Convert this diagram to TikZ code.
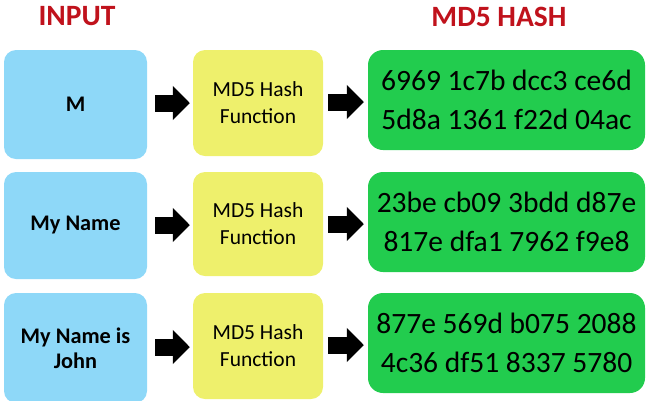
\documentclass[tikz,border=0pt]{standalone}
\usepackage{fontspec}
\setmainfont{Carlito}
\usetikzlibrary{arrows.meta}
\definecolor{inblue}{HTML}{8ED8F8}
\definecolor{fnyellow}{HTML}{EEF06C}
\definecolor{hashgreen}{HTML}{22CC4E}
\definecolor{titlered}{HTML}{C0121C}
\tikzset{
  box/.style={rounded corners=12pt, inner sep=0pt, align=center, text=black},
  inbox/.style={box, fill=inblue, minimum width=143pt, font=\bfseries\fontsize{22.3}{25}\selectfont},
  fnbox/.style={box, fill=fnyellow, minimum width=130pt, font=\fontsize{21.5}{27}\selectfont},
  hashbox/.style={box, fill=hashgreen, minimum width=277pt, minimum height=100pt, rounded corners=15pt, font=\fontsize{29.5}{39}\selectfont},
  title/.style={text=titlered, font=\bfseries\fontsize{29.5}{32}\selectfont, inner sep=0pt},
  blockarrow/.style={line width=17pt, -{Triangle[length=17pt,width=33pt]}, black}
}
\begin{document}
\begin{tikzpicture}[x=1pt,y=-1pt]
\useasboundingbox (0,0) rectangle (650,400);
\node[title] (tin) at (77,16.5) {INPUT};
\node[title] (thash) at (499,16.5) {MD5 HASH};
% row 1
\node[inbox, minimum height=109pt] (b1) at (75.5,104.5) {M};
\node[fnbox, minimum height=106pt] (y1) at (258,103) {MD5 Hash\\Function};
\node[hashbox] (g1) at (506.5,100) {6969 1c7b dcc3 ce6d\\5d8a 1361 f22d 04ac};
% row 2
\node[inbox, minimum height=107pt] (b2) at (75.5,225.5) {My Name};
\node[fnbox, minimum height=104pt] (y2) at (258,224) {MD5 Hash\\Function};
\node[hashbox] (g2) at (506.5,222) {23be cb09 3bdd d87e\\817e dfa1 7962 f9e8};
% row 3
\node[inbox, minimum height=110pt] (b3) at (75.5,348) {My Name is\\John};
\node[fnbox, minimum height=106pt] (y3) at (258,346) {MD5 Hash\\Function};
\node[hashbox] (g3) at (506.5,343) {877e 569d b075 2088\\4c36 df51 8337 5780};
% arrows
\foreach \i/\ya/\yb in {1/103/102, 2/225/224, 3/347/345} {
  \coordinate (a\i s) at (b\i.east |- 0,\ya);
  \coordinate (a\i e) at (y\i.west |- 0,\ya);
  \coordinate (c\i s) at (y\i.east |- 0,\yb);
  \coordinate (c\i e) at (g\i.west |- 0,\yb);
  \draw[blockarrow, shorten <=8pt, shorten >=3pt] (a\i s) -- (a\i e);
  \draw[blockarrow, shorten <=5pt, shorten >=4pt] (c\i s) -- (c\i e);
}
\end{tikzpicture}
\end{document}
